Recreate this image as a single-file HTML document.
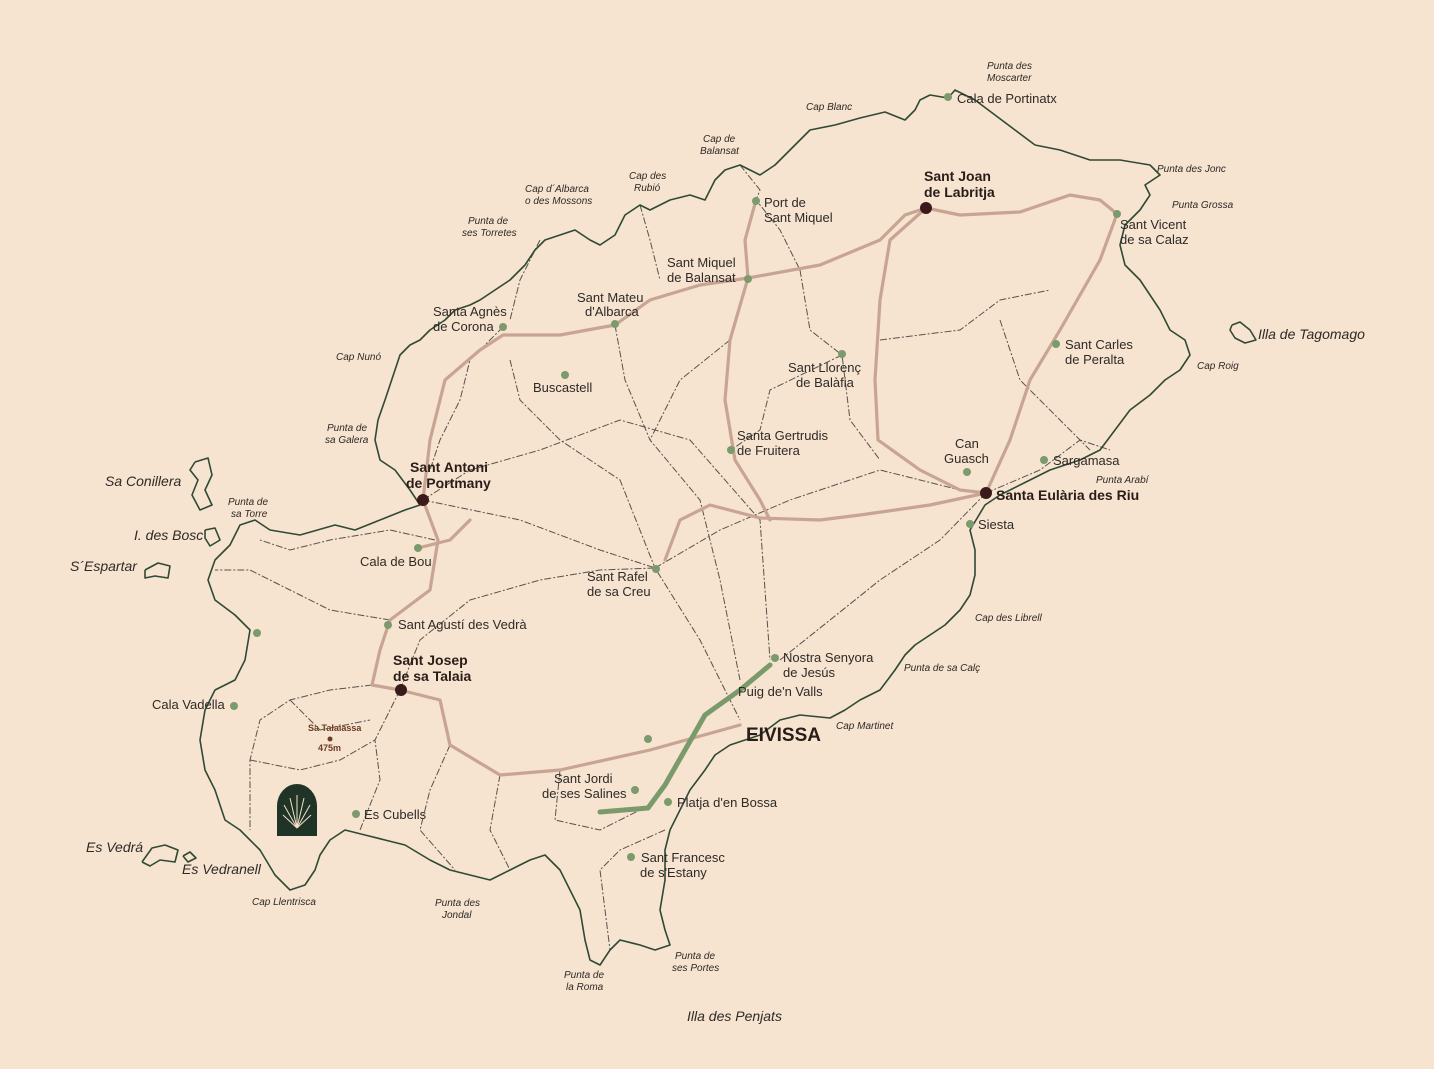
<!DOCTYPE html>
<html><head><meta charset="utf-8"><style>
html,body{margin:0;padding:0;background:#f6e3d0;}
svg{display:block}
text{font-family:"Liberation Sans",sans-serif;fill:#2e2a26;}
.t{font-size:13px}
.b{font-size:14px;font-weight:bold;fill:#2a1c18}
.i{font-size:10px;font-style:italic}
.ib{font-size:14px;font-style:italic}
</style></head><body>
<svg width="1434" height="1069" viewBox="0 0 1434 1069" xmlns="http://www.w3.org/2000/svg">
<rect width="1434" height="1069" fill="#f6e3d0"/>
<g fill="none" stroke="#2f4a34" stroke-width="1.6" stroke-linejoin="round">
<polyline points="948,98 930,95 920,100 915,110 905,120 885,112 860,118 835,125 810,130 800,140 790,150 775,165 760,175 740,165 725,170 715,180 705,200 690,195 670,200 650,210 640,205 625,215 615,235 600,245 590,240 575,230 560,235 545,240 535,250 525,265 510,280 495,290 480,300 470,305 455,310 445,320 430,330 420,340 410,345 400,355 395,370 390,385 385,400 378,420 375,440 380,460 395,470 410,490 420,505 405,510 380,520 355,530 335,525 300,535 270,530 255,520 240,525 230,545 215,560 208,580 215,600 235,615 250,630 245,660 235,680 215,690 205,710 200,740 205,770 215,790 225,820 240,830 260,850 275,875 290,890 305,885 315,870 320,855 330,840 345,830 365,835 385,840 405,845 430,860 450,870 470,875 490,880 510,870 530,860 545,855 560,870 570,890 580,910 585,940 590,960 600,965 610,950 620,940 640,945 655,950 670,945 665,930 660,910 665,880 665,850 670,830 680,810 690,790 705,770 715,755 730,745 745,740 760,735 780,720 800,715 830,718 845,710 860,700 880,690 895,670 905,655 915,645 930,635 945,625 960,610 970,595 975,575 975,550 970,530 985,505 1000,495 1030,480 1050,470 1080,460 1100,450 1115,430 1130,410 1150,395 1165,380 1180,370 1190,355 1185,340 1170,330 1160,310 1150,295 1140,280 1125,265 1120,245 1125,225 1140,210 1150,195 1145,185 1160,175 1150,165 1120,160 1090,160 1060,150 1035,145 1015,130 995,115 975,100 955,90 948,98"/>
<polyline points="1232,325 1240,322 1250,330 1256,340 1245,343 1235,338 1230,330 1232,325"/>
<polyline points="195,462 208,458 212,475 205,490 212,505 200,510 192,495 198,480 190,470 195,462"/>
<polyline points="205,530 215,528 220,540 210,546 205,538 205,530"/>
<polyline points="145,570 158,563 170,566 168,578 155,576 145,578 145,570"/>
<polyline points="142,862 152,848 165,845 178,850 175,862 160,860 150,866 142,862"/>
<polyline points="183,856 190,852 196,858 188,862 183,856"/>
</g>
<g fill="none" stroke="#3c3a36" stroke-width="1" stroke-dasharray="7,2,2,2" opacity="0.85">
<polyline points="423,500 520,520 600,550 655,568 700,640 740,720"/>
<polyline points="423,500 470,470 540,450 620,420 690,440 760,520 770,660"/>
<polyline points="510,360 520,400 560,440 620,480 655,568"/>
<polyline points="615,325 625,380 650,440 700,500 720,580 740,680"/>
<polyline points="655,568 720,530 790,500 880,470 960,490"/>
<polyline points="986,493 940,540 880,580 830,620 780,660"/>
<polyline points="800,270 810,330 842,355 850,420 880,460"/>
<polyline points="880,340 960,330 1000,300 1050,290"/>
<polyline points="1000,320 1020,380 1060,420 1090,450"/>
<polyline points="986,493 1040,470 1080,440 1110,450"/>
<polyline points="842,355 770,390 760,430 731,450"/>
<polyline points="400,690 420,640 470,600 540,580 600,570 655,568"/>
<polyline points="400,690 375,740 380,780 360,830"/>
<polyline points="372,685 330,690 290,700 260,720 250,760 250,830"/>
<polyline points="390,620 330,610 290,590 250,570 215,570"/>
<polyline points="435,540 390,530 330,540 290,550 260,540"/>
<polyline points="500,775 490,830 510,870"/>
<polyline points="560,770 555,820 600,830 640,810"/>
<polyline points="665,830 620,850 600,870 610,950"/>
<polyline points="450,745 430,790 420,830 455,870"/>
<polyline points="290,700 320,730 370,720"/>
<polyline points="250,760 300,770 340,760 375,740"/>
<polyline points="730,340 680,380 650,440"/>
<polyline points="503,327 470,360 460,400 440,440 430,470"/>
<polyline points="740,165 760,190 756,200 780,230 800,270"/>
<polyline points="640,205 650,240 660,280"/>
<polyline points="540,240 520,280 510,320"/>
</g>
<g fill="none" stroke="#c8a493" stroke-width="3.2" stroke-linecap="round" stroke-linejoin="round">
<polyline points="423,500 430,440 445,380 480,350 503,335 560,335 615,325 650,300 700,285 748,278 820,265 880,240 905,215 926,208 960,215 1020,212 1070,195 1100,200 1117,214"/>
<polyline points="926,208 890,240 880,300 875,380 878,440 920,470 960,490 986,493"/>
<polyline points="1117,214 1100,260 1060,330 1030,380 1010,440 986,493"/>
<polyline points="756,200 745,240 748,278 730,340 725,400 735,460 760,500 770,520"/>
<polyline points="423,500 438,540 430,590 390,620 380,650 372,685 400,690 440,700 450,745 500,775 560,770 650,750 740,725"/>
<polyline points="986,493 930,505 860,515 820,520 760,518 710,505 680,520 665,560"/>
<polyline points="418,548 450,540 470,520"/>
</g>
<polyline points="770,665 740,690 705,715 685,750 665,785 648,808 600,812" fill="none" stroke="#7a9a6c" stroke-width="5" stroke-linecap="round" stroke-linejoin="round"/>
<g fill="#7c9a6e">
<circle cx="948" cy="97" r="4"/><circle cx="756" cy="201" r="4"/><circle cx="1117" cy="214" r="4"/>
<circle cx="748" cy="279" r="4"/><circle cx="503" cy="327" r="4"/><circle cx="615" cy="324" r="4"/>
<circle cx="1056" cy="344" r="4"/><circle cx="842" cy="354" r="4"/><circle cx="565" cy="375" r="4"/>
<circle cx="731" cy="450" r="4"/><circle cx="967" cy="472" r="4"/><circle cx="1044" cy="460" r="4"/>
<circle cx="970" cy="524" r="4"/><circle cx="418" cy="548" r="4"/><circle cx="656" cy="569" r="4"/>
<circle cx="388" cy="625" r="4"/><circle cx="257" cy="633" r="4"/><circle cx="775" cy="658" r="4"/>
<circle cx="234" cy="706" r="4"/><circle cx="648" cy="739" r="4"/><circle cx="635" cy="790" r="4"/>
<circle cx="668" cy="802" r="4"/><circle cx="356" cy="814" r="4"/><circle cx="631" cy="857" r="4"/>
</g>
<g fill="#3a1a1a">
<circle cx="926" cy="208" r="6"/><circle cx="423" cy="500" r="6"/><circle cx="986" cy="493" r="6"/><circle cx="401" cy="690" r="6"/>
<circle cx="330" cy="739" r="2.5" fill="#6b3d22"/>
</g>
<g>
<path d="M277,836 L277,806 A20,22 0 0 1 317,806 L317,836 Z" fill="#1f3326"/>
<g stroke="#f3e0c8" stroke-width="1" fill="none">
<line x1="297" y1="828" x2="297" y2="795"/><line x1="297" y1="828" x2="290" y2="798"/><line x1="297" y1="828" x2="304" y2="798"/>
<line x1="297" y1="828" x2="284" y2="805"/><line x1="297" y1="828" x2="310" y2="805"/><line x1="297" y1="828" x2="283" y2="815"/><line x1="297" y1="828" x2="311" y2="815"/>
</g>
</g>
<text class="t" x="957" y="103">Cala de Portinatx</text>
<text class="t" x="764" y="207">Port de</text><text class="t" x="764" y="222">Sant Miquel</text>
<text class="b" x="924" y="181">Sant Joan</text><text class="b" x="924" y="197">de Labritja</text>
<text class="t" x="1120" y="229">Sant Vicent</text><text class="t" x="1120" y="244">de sa Calaz</text>
<text class="t" x="667" y="267">Sant Miquel</text><text class="t" x="667" y="282">de Balansat</text>
<text class="t" x="577" y="302">Sant Mateu</text><text class="t" x="585" y="316">d'Albarca</text>
<text class="t" x="433" y="316">Santa Agnès</text><text class="t" x="433" y="331">de Corona</text>
<text class="t" x="1065" y="349">Sant Carles</text><text class="t" x="1065" y="364">de Peralta</text>
<text class="t" x="788" y="372">Sant Llorenç</text><text class="t" x="796" y="387">de Balàfia</text>
<text class="t" x="533" y="392">Buscastell</text>
<text class="t" x="737" y="440">Santa Gertrudis</text><text class="t" x="737" y="455">de Fruitera</text>
<text class="t" x="955" y="448">Can</text><text class="t" x="944" y="463">Guasch</text>
<text class="t" x="1053" y="465">Sargamasa</text>
<text class="b" x="410" y="472">Sant Antoni</text><text class="b" x="406" y="488">de Portmany</text>
<text class="b" x="996" y="500">Santa Eulària des Riu</text>
<text class="t" x="978" y="529">Siesta</text>
<text class="t" x="360" y="566">Cala de Bou</text>
<text class="t" x="587" y="581">Sant Rafel</text><text class="t" x="587" y="596">de sa Creu</text>
<text class="t" x="398" y="629">Sant Agustí des Vedrà</text>
<text class="b" x="393" y="665">Sant Josep</text><text class="b" x="393" y="681">de sa Talaia</text>
<text class="t" x="783" y="662">Nostra Senyora</text><text class="t" x="783" y="677">de Jesús</text>
<text class="t" x="738" y="696">Puig de'n Valls</text>
<text class="t" x="152" y="709">Cala Vadella</text>
<text x="308" y="731" style="font-size:9px;font-weight:bold;fill:#6b3d22">Sa Talaiassa</text>
<text x="318" y="751" style="font-size:9px;font-weight:bold;fill:#6b3d22">475m</text>
<text x="746" y="741" style="font-size:19px;font-weight:bold;fill:#2a1c18">EIVISSA</text>
<text class="t" x="554" y="783">Sant Jordi</text><text class="t" x="542" y="798">de ses Salines</text>
<text class="t" x="677" y="807">Platja d'en Bossa</text>
<text class="t" x="364" y="819">Es Cubells</text>
<text class="t" x="641" y="862">Sant Francesc</text><text class="t" x="640" y="877">de s'Estany</text>
<g class="i">
<text class="i" x="987" y="69">Punta des</text><text class="i" x="987" y="81">Moscarter</text>
<text class="i" x="806" y="110">Cap Blanc</text>
<text class="i" x="703" y="142">Cap de</text><text class="i" x="700" y="154">Balansat</text>
<text class="i" x="629" y="179">Cap des</text><text class="i" x="634" y="191">Rubió</text>
<text class="i" x="525" y="192">Cap d´Albarca</text><text class="i" x="525" y="204">o des Mossons</text>
<text class="i" x="468" y="224">Punta de</text><text class="i" x="462" y="236">ses Torretes</text>
<text class="i" x="1157" y="172">Punta des Jonc</text>
<text class="i" x="1172" y="208">Punta Grossa</text>
<text class="i" x="1197" y="369">Cap Roig</text>
<text class="i" x="336" y="360">Cap Nunó</text>
<text class="i" x="327" y="431">Punta de</text><text class="i" x="325" y="443">sa Galera</text>
<text class="i" x="1096" y="483">Punta Arabí</text>
<text class="i" x="228" y="505">Punta de</text><text class="i" x="231" y="517">sa Torre</text>
<text class="i" x="975" y="621">Cap des Librell</text>
<text class="i" x="904" y="671">Punta de sa Calç</text>
<text class="i" x="836" y="729">Cap Martinet</text>
<text class="i" x="252" y="905">Cap Llentrisca</text>
<text class="i" x="435" y="906">Punta des</text><text class="i" x="442" y="918">Jondal</text>
<text class="i" x="675" y="959">Punta de</text><text class="i" x="672" y="971">ses Portes</text>
<text class="i" x="564" y="978">Punta de</text><text class="i" x="566" y="990">la Roma</text>
</g>
<text class="ib" x="1258" y="339">Illa de Tagomago</text>
<text class="ib" x="105" y="486">Sa Conillera</text>
<text class="ib" x="134" y="540">I. des Bosc</text>
<text class="ib" x="70" y="571">S´Espartar</text>
<text class="ib" x="86" y="852">Es Vedrá</text>
<text class="ib" x="182" y="874">Es Vedranell</text>
<text class="ib" x="687" y="1021">Illa des Penjats</text>
</svg>
</body></html>
